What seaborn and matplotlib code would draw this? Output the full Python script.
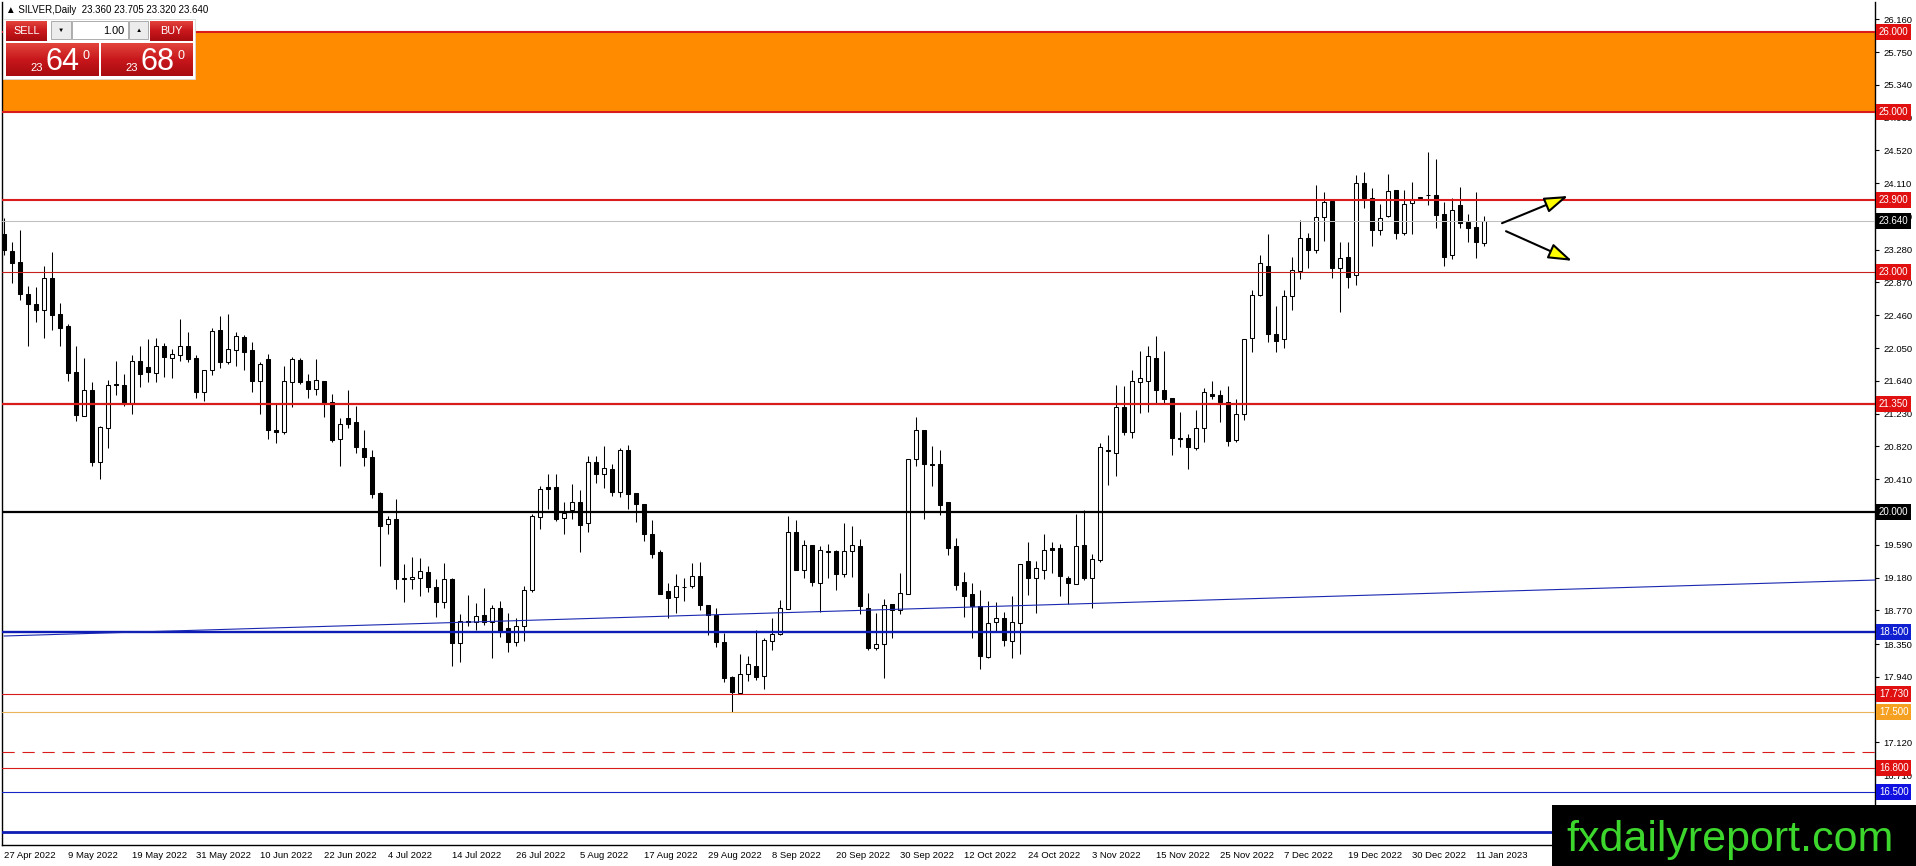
import numpy as np
import pandas as pd
import seaborn as sns
import matplotlib.pyplot as plt
import matplotlib.transforms as mtransforms
from matplotlib.patches import Rectangle
from matplotlib.colors import LinearSegmentedColormap

# Daily candles, 27 Apr 2022 .. 12 Jan 2023
opens = [23.48, 23.26, 23.12, 22.72, 22.60, 22.52, 22.93, 22.47, 22.32, 21.75,
         21.20, 21.53, 20.63, 21.05, 21.60, 21.59, 21.36, 21.89, 21.81, 21.74,
         22.08, 21.93, 21.96, 22.08, 21.93, 21.50, 21.78, 22.27, 21.88, 22.03,
         22.19, 22.02, 21.64, 21.91, 21.03, 21.00, 21.63, 21.90, 21.64, 21.54,
         21.64, 21.37, 20.91, 21.17, 21.12, 20.80, 20.69, 20.24, 19.85, 19.91,
         19.18, 19.16, 19.17, 19.25, 19.06, 18.87, 19.16, 18.36, 18.64, 18.63,
         18.71, 18.62, 18.80, 18.55, 18.38, 18.57, 19.025, 19.94, 20.31, 20.31,
         19.93, 20.02, 20.12, 19.86, 20.62, 20.48, 20.54, 20.25, 20.775, 20.24,
         20.10, 19.73, 19.50, 19.01, 18.94, 19.06, 19.07, 19.20, 18.84, 18.71,
         18.375, 17.94, 17.74, 17.98, 18.08, 17.95, 18.39, 18.475, 18.79, 19.745,
         19.28, 19.59, 19.11, 19.50, 19.51, 19.22, 19.51, 19.575, 18.80, 18.30,
         18.35, 18.85, 18.775, 18.975, 20.66, 21.025, 20.60, 20.60, 20.125, 19.57,
         19.12, 18.975, 18.83, 18.19, 18.62, 18.68, 18.39, 18.61, 19.39, 19.17,
         19.28, 19.55, 19.55, 19.17, 19.10, 19.59, 19.18, 19.40, 20.76, 20.74,
         21.31, 21.00, 21.63, 21.64, 21.93, 21.53, 21.43, 20.93, 20.92, 20.80,
         21.045, 21.48, 21.46, 21.37, 20.90, 21.22, 22.17, 22.71, 23.075, 22.225,
         22.16, 22.70, 23.015, 23.42, 23.27, 23.69, 23.89, 23.05, 23.19, 22.96,
         24.11, 23.93, 23.52, 23.70, 24.025, 23.49, 23.86, 23.93, 23.96, 23.96,
         23.725, 23.21, 23.84, 23.63, 23.56, 23.36]
highs = [23.67, 23.37, 23.53, 22.83, 22.81, 23.07, 23.25, 22.61, 22.35, 22.08,
         21.93, 21.62, 21.07, 21.65, 21.89, 21.72, 21.96, 22.07, 22.16, 22.18,
         22.11, 22.04, 22.41, 22.25, 21.96, 21.78, 22.30, 22.45, 22.48, 22.25,
         22.21, 22.12, 21.88, 21.98, 21.35, 21.82, 21.94, 21.92, 21.73, 21.91,
         21.64, 21.475, 21.18, 21.52, 21.32, 21.02, 20.78, 20.25, 19.95, 20.16,
         19.35, 19.44, 19.42, 19.32, 19.16, 19.36, 19.17, 18.73, 18.96, 18.86,
         19.05, 18.84, 18.89, 18.74, 18.67, 19.08, 19.975, 20.325, 20.475, 20.475,
         20.12, 20.35, 20.27, 20.70, 20.70, 20.82, 20.60, 20.80, 20.84, 20.24,
         20.10, 19.90, 19.52, 19.11, 19.23, 19.18, 19.36, 19.38, 18.84, 18.795,
         18.49, 17.95, 18.23, 18.20, 18.525, 18.42, 18.68, 18.90, 19.95, 19.90,
         19.65, 19.59, 19.575, 19.60, 19.525, 19.86, 19.82, 19.66, 18.99, 18.74,
         18.91, 18.85, 19.24, 20.66, 21.19, 21.025, 20.825, 20.775, 20.125, 19.67,
         19.25, 19.11, 19.025, 18.89, 18.87, 18.75, 18.95, 19.35, 19.62, 19.39,
         19.725, 19.63, 19.60, 19.20, 19.975, 20.025, 19.48, 20.86, 20.96, 21.59,
         21.57, 21.78, 22.01, 22.07, 22.20, 22.01, 21.43, 21.245, 20.975, 21.28,
         21.545, 21.64, 21.52, 21.575, 21.41, 22.16, 22.77, 23.21, 23.475, 22.575,
         22.78, 23.185, 23.65, 23.485, 24.09, 24.00, 23.89, 23.38, 23.37, 24.21,
         24.25, 24.05, 23.85, 24.23, 24.025, 24.025, 24.12, 23.94, 24.50, 24.41,
         23.88, 23.92, 24.06, 23.725, 24.00, 23.705]
lows = [23.21, 22.86, 22.65, 22.08, 22.38, 22.17, 22.28, 22.07, 21.64, 21.14,
        21.20, 20.57, 20.41, 20.80, 21.46, 21.32, 21.23, 21.56, 21.63, 21.63,
        21.69, 21.68, 21.89, 21.87, 21.43, 21.39, 21.71, 21.80, 21.85, 21.83,
        21.77, 21.50, 21.23, 20.91, 20.86, 20.97, 21.31, 21.60, 21.43, 21.46,
        21.19, 20.88, 20.57, 21.05, 20.74, 20.57, 20.17, 19.325, 19.72, 19.04,
        18.87, 19.04, 18.95, 19.00, 18.69, 18.80, 18.08, 18.13, 18.58, 18.525,
        18.59, 18.18, 18.44, 18.25, 18.33, 18.39, 19.00, 19.79, 20.04, 19.89,
        19.725, 19.91, 19.50, 19.75, 20.36, 20.30, 20.20, 20.19, 20.04, 19.87,
        19.64, 19.43, 18.97, 18.67, 18.74, 18.89, 19.05, 18.77, 18.46, 18.31,
        17.88, 17.50, 17.725, 17.89, 17.90, 17.79, 18.28, 18.46, 18.79, 19.275,
        19.18, 19.07, 18.75, 19.18, 19.02, 19.19, 19.19, 18.725, 18.275, 18.27,
        17.92, 18.43, 18.73, 18.975, 20.57, 19.91, 20.325, 19.96, 19.46, 19.025,
        18.69, 18.42, 18.04, 18.18, 18.50, 18.32, 18.18, 18.225, 18.96, 18.74,
        19.16, 19.24, 18.95, 18.85, 19.10, 19.15, 18.80, 19.37, 20.34, 20.45,
        20.96, 20.92, 21.24, 21.255, 21.36, 21.36, 20.71, 20.81, 20.54, 20.775,
        20.87, 21.41, 21.12, 20.825, 20.87, 21.15, 22.005, 22.70, 22.13, 22.005,
        22.045, 22.52, 22.91, 23.045, 23.24, 23.39, 22.92, 22.50, 22.80, 22.84,
        23.80, 23.325, 23.46, 23.69, 23.41, 23.46, 23.475, 23.92, 23.84, 23.545,
        23.07, 23.16, 23.545, 23.38, 23.17, 23.32]
closes = [23.275, 23.11, 22.73, 22.60, 22.52, 22.93, 22.46, 22.30, 21.74, 21.21,
          21.53, 20.63, 21.06, 21.59, 21.59, 21.36, 21.89, 21.73, 21.75, 22.08,
          21.94, 21.97, 22.08, 21.91, 21.50, 21.78, 22.26, 21.87, 22.04, 22.20,
          22.00, 21.64, 21.85, 21.02, 21.00, 21.64, 21.91, 21.62, 21.54, 21.65,
          21.35, 20.90, 21.10, 21.10, 20.81, 20.69, 20.22, 19.83, 19.91, 19.16,
          19.16, 19.19, 19.26, 19.06, 18.87, 19.16, 18.36, 18.64, 18.62, 18.70,
          18.62, 18.80, 18.50, 18.38, 18.575, 19.03, 19.95, 20.29, 20.29, 19.91,
          19.99, 20.12, 19.84, 20.62, 20.475, 20.55, 20.25, 20.775, 20.225, 20.10,
          19.73, 19.475, 18.975, 18.93, 19.07, 19.065, 19.20, 18.84, 18.71, 18.37,
          17.93, 17.75, 17.98, 18.10, 17.94, 18.40, 18.48, 18.80, 19.745, 19.275,
          19.59, 19.12, 19.53, 19.51, 19.22, 19.51, 19.59, 18.82, 18.30, 18.35,
          18.84, 18.775, 18.985, 20.66, 21.025, 20.60, 20.59, 20.09, 19.55, 19.09,
          18.95, 18.825, 18.20, 18.61, 18.67, 18.40, 18.62, 19.35, 19.17, 19.30,
          19.53, 19.525, 19.20, 19.11, 19.575, 19.18, 19.41, 20.81, 20.77, 21.31,
          21.00, 21.64, 21.67, 21.95, 21.525, 21.41, 20.92, 20.91, 20.81, 21.045,
          21.495, 21.45, 21.37, 20.89, 21.22, 22.16, 22.71, 23.11, 22.22, 22.14,
          22.70, 23.025, 23.42, 23.27, 23.683, 23.88, 23.05, 23.18, 22.94, 24.11,
          23.93, 23.52, 23.68, 24.01, 23.49, 23.85, 23.91, 23.93, 23.965, 23.71,
          23.19, 23.775, 23.61, 23.55, 23.37, 23.64]

date_labels = ['27 Apr 2022', '9 May 2022', '19 May 2022', '31 May 2022', '10 Jun 2022',
               '22 Jun 2022', '4 Jul 2022', '14 Jul 2022', '26 Jul 2022', '5 Aug 2022',
               '17 Aug 2022', '29 Aug 2022', '8 Sep 2022', '20 Sep 2022', '30 Sep 2022',
               '12 Oct 2022', '24 Oct 2022', '3 Nov 2022', '15 Nov 2022', '25 Nov 2022',
               '7 Dec 2022', '19 Dec 2022', '30 Dec 2022', '11 Jan 2023']
# scale ticks that show on the right (20.000 and 17.530 sit under the level tags)
price_ticks = [26.16, 25.75, 25.34, 24.93, 24.52, 24.11, 23.70, 23.28, 22.87, 22.46,
               22.05, 21.64, 21.23, 20.82, 20.41, 19.59, 19.18, 18.77, 18.35,
               17.94, 17.12, 16.71]

# horizontal levels drawn on the chart
level_prices = [26.0, 25.0, 23.9, 23.0, 21.35, 20.0, 18.5, 17.73, 17.5, 17.0, 16.8, 16.5, 16.0]
band = [25.0, 26.0]
bid = 23.64
trend_bars = [0, 234]
trend_prices = [18.45, 19.15]
# levels that carry a price tag on the right scale
tag_prices = [26.0, 25.0, 23.9, 23.64, 23.0, 21.35, 20.0, 18.5, 17.73, 17.5, 16.8, 16.5]

arrow_tails = [(187.25, 23.61), (187.75, 23.51)]
arrow_heads = [(195.5, 23.95), (196.0, 23.14)]

RED = '#d81c1c'
BLUE = '#0c1cb4'
level_styles = [(RED, 1.5, '-'), (RED, 1.5, '-'), (RED, 1.5, '-'), ('#c8201c', 0.8, '-'),
                (RED, 1.6, '-'), ('black', 1.6, '-'), (BLUE, 1.7, '-'), (RED, 0.8, '-'),
                ('#eab45a', 0.8, '-'), (RED, 0.8, (0, (11, 7))), (RED, 0.8, '-'),
                ('#1426c8', 0.8, '-'), (BLUE, 2.0, '-')]
tag_colors = ['#e01010', '#e01010', '#e01010', 'black', '#e01010', '#e01010', 'black',
              '#1020d0', '#e01010', '#f5a020', '#e01010', '#1010e0']

sns.set_theme(style='white')
plt.rcParams['font.family'] = ['Liberation Sans', 'DejaVu Sans']

df = pd.DataFrame({'open': opens, 'high': highs, 'low': lows, 'close': closes})
df['bar'] = np.arange(len(df))
up = df['close'] >= df['open']

W, H = 1916, 866
fig = plt.figure(figsize=(W / 100, H / 100), dpi=100)
ax = fig.add_axes([2 / W, (H - 845) / H, 1873 / W, 843 / H])
ax.set_facecolor('white')

ax.axhspan(band[0], band[1], color='#ff8c00', lw=0, zorder=0)

# candles
ax.vlines(df['bar'], df['low'], df['high'], color='black', lw=0.75, zorder=2)
body_lo = df[['open', 'close']].min(axis=1)
body_h = (df['close'] - df['open']).abs().clip(lower=0.004)
ax.bar(df['bar'], body_h, bottom=body_lo, width=0.6,
       color=np.where(up, 'white', 'black'), edgecolor='black', linewidth=0.75, zorder=3)

# level lines on top of the candles
for p, (c, lw, ls) in zip(level_prices, level_styles):
    ax.axhline(p, color=c, lw=lw, ls=ls, zorder=4)
ax.axhline(bid, color='#c0c0c0', lw=0.75, zorder=4)
sns.lineplot(x=trend_bars, y=trend_prices, ax=ax, color='#1a28b0', lw=0.8, zorder=4)

for (tx, ty), (hx, hy) in zip(arrow_tails, arrow_heads):
    ax.annotate('', xy=(hx, hy), xytext=(tx, ty),
                arrowprops=dict(arrowstyle='-|>,head_length=1.2,head_width=0.4',
                                facecolor='#ffff00', edgecolor='black', lw=1.5,
                                shrinkA=0, shrinkB=0), zorder=6)

ax.set_xlim(-0.25, 233.875)
ax.set_ylim(15.8375, 26.375)

ax.set_xticks(range(0, len(df), 8))
ax.set_xticklabels(date_labels, ha='left', fontsize=6.8)
ax.yaxis.tick_right()
ax.set_yticks(price_ticks)
ax.set_yticklabels([f'{t:.3f}' for t in price_ticks], fontsize=6.8)
ax.tick_params(axis='y', direction='out', length=3, width=0.8, pad=3, colors='black')
ax.tick_params(axis='x', direction='out', length=3, width=0.8, pad=1.5, colors='black')
for side in ['left', 'bottom', 'right']:
    ax.spines[side].set_color('black')
    ax.spines[side].set_linewidth(1.0)
ax.spines['top'].set_visible(False)
ax.set_xlabel('')
ax.set_ylabel('')

blend = mtransforms.blended_transform_factory(ax.transAxes, ax.transData)
for p, c in zip(tag_prices, tag_colors):
    ax.text(1.0021, p, f'{p:.3f}', transform=blend, ha='left', va='center',
            fontsize=7, color='white', zorder=8, clip_on=False,
            bbox=dict(boxstyle='square,pad=0.3', fc=c, ec='none'))

# overlay in pixel units: header, trade panel, watermark
ov = fig.add_axes([0, 0, 1, 1], zorder=20)
ov.patch.set_alpha(0)
ov.axis('off')

ov.text(6, 10, '\u25b2 SILVER,Daily  23.360 23.705 23.320 23.640', fontsize=7,
        va='center', ha='left', color='black')

red_cmap = LinearSegmentedColormap.from_list('mt_red', ['#e2443c', '#c8171c', '#a80c10'])
grad = np.linspace(0, 1, 40).reshape(-1, 1)


def red_box(x, y, w, h):
    ov.imshow(grad, cmap=red_cmap, extent=(x, x + w, y + h, y), aspect='auto', zorder=3)


ov.add_patch(Rectangle((3, 19), 192, 60, fc='white', ec='#d8d8d8', lw=0.6, zorder=2))
red_box(6, 21, 41, 20)
red_box(150, 21, 43, 20)
red_box(6, 43, 93, 33)
red_box(101, 43, 92, 33)
ov.add_patch(Rectangle((51, 21), 20, 18, fc='#ececec', ec='#a0a0a0', lw=0.6, zorder=3))
ov.add_patch(Rectangle((72, 21), 56, 18, fc='white', ec='#a0a0a0', lw=0.6, zorder=3))
ov.add_patch(Rectangle((129, 21), 19, 18, fc='#ececec', ec='#a0a0a0', lw=0.6, zorder=3))
ov.text(61, 30.5, '\u25bc', fontsize=4.5, ha='center', va='center', color='black', zorder=4)
ov.text(138.5, 30, '\u25b2', fontsize=4.5, ha='center', va='center', color='black', zorder=4)
ov.text(124, 30.5, '1.00', fontsize=7.8, ha='right', va='center', color='black', zorder=4)
ov.text(26.5, 31, 'SELL', fontsize=7.8, ha='center', va='center', color='white', zorder=4)
ov.text(171.5, 31, 'BUY', fontsize=7.8, ha='center', va='center', color='white', zorder=4)
for x0, big in [(6, '64'), (101, '68')]:
    ov.text(x0 + 24, 71, '23', fontsize=8, ha='left', va='baseline', color='white', zorder=4)
    ov.text(x0 + 40, 70, big, fontsize=22, ha='left', va='baseline', color='white', zorder=4)
    ov.text(x0 + 77, 59, '0', fontsize=9, ha='left', va='baseline', color='white', zorder=4)

ov.add_patch(Rectangle((1552, 805), 364, 61, fc='black', ec='none', zorder=3))
ov.text(1566, 851, 'fxdailyreport.com', fontsize=31, ha='left', va='baseline',
        color='#3cd62c', family=['Liberation Sans Narrow', 'Liberation Sans'], zorder=4)

ov.set_xlim(0, W)
ov.set_ylim(H, 0)

fig.savefig('out.png', dpi=100)
